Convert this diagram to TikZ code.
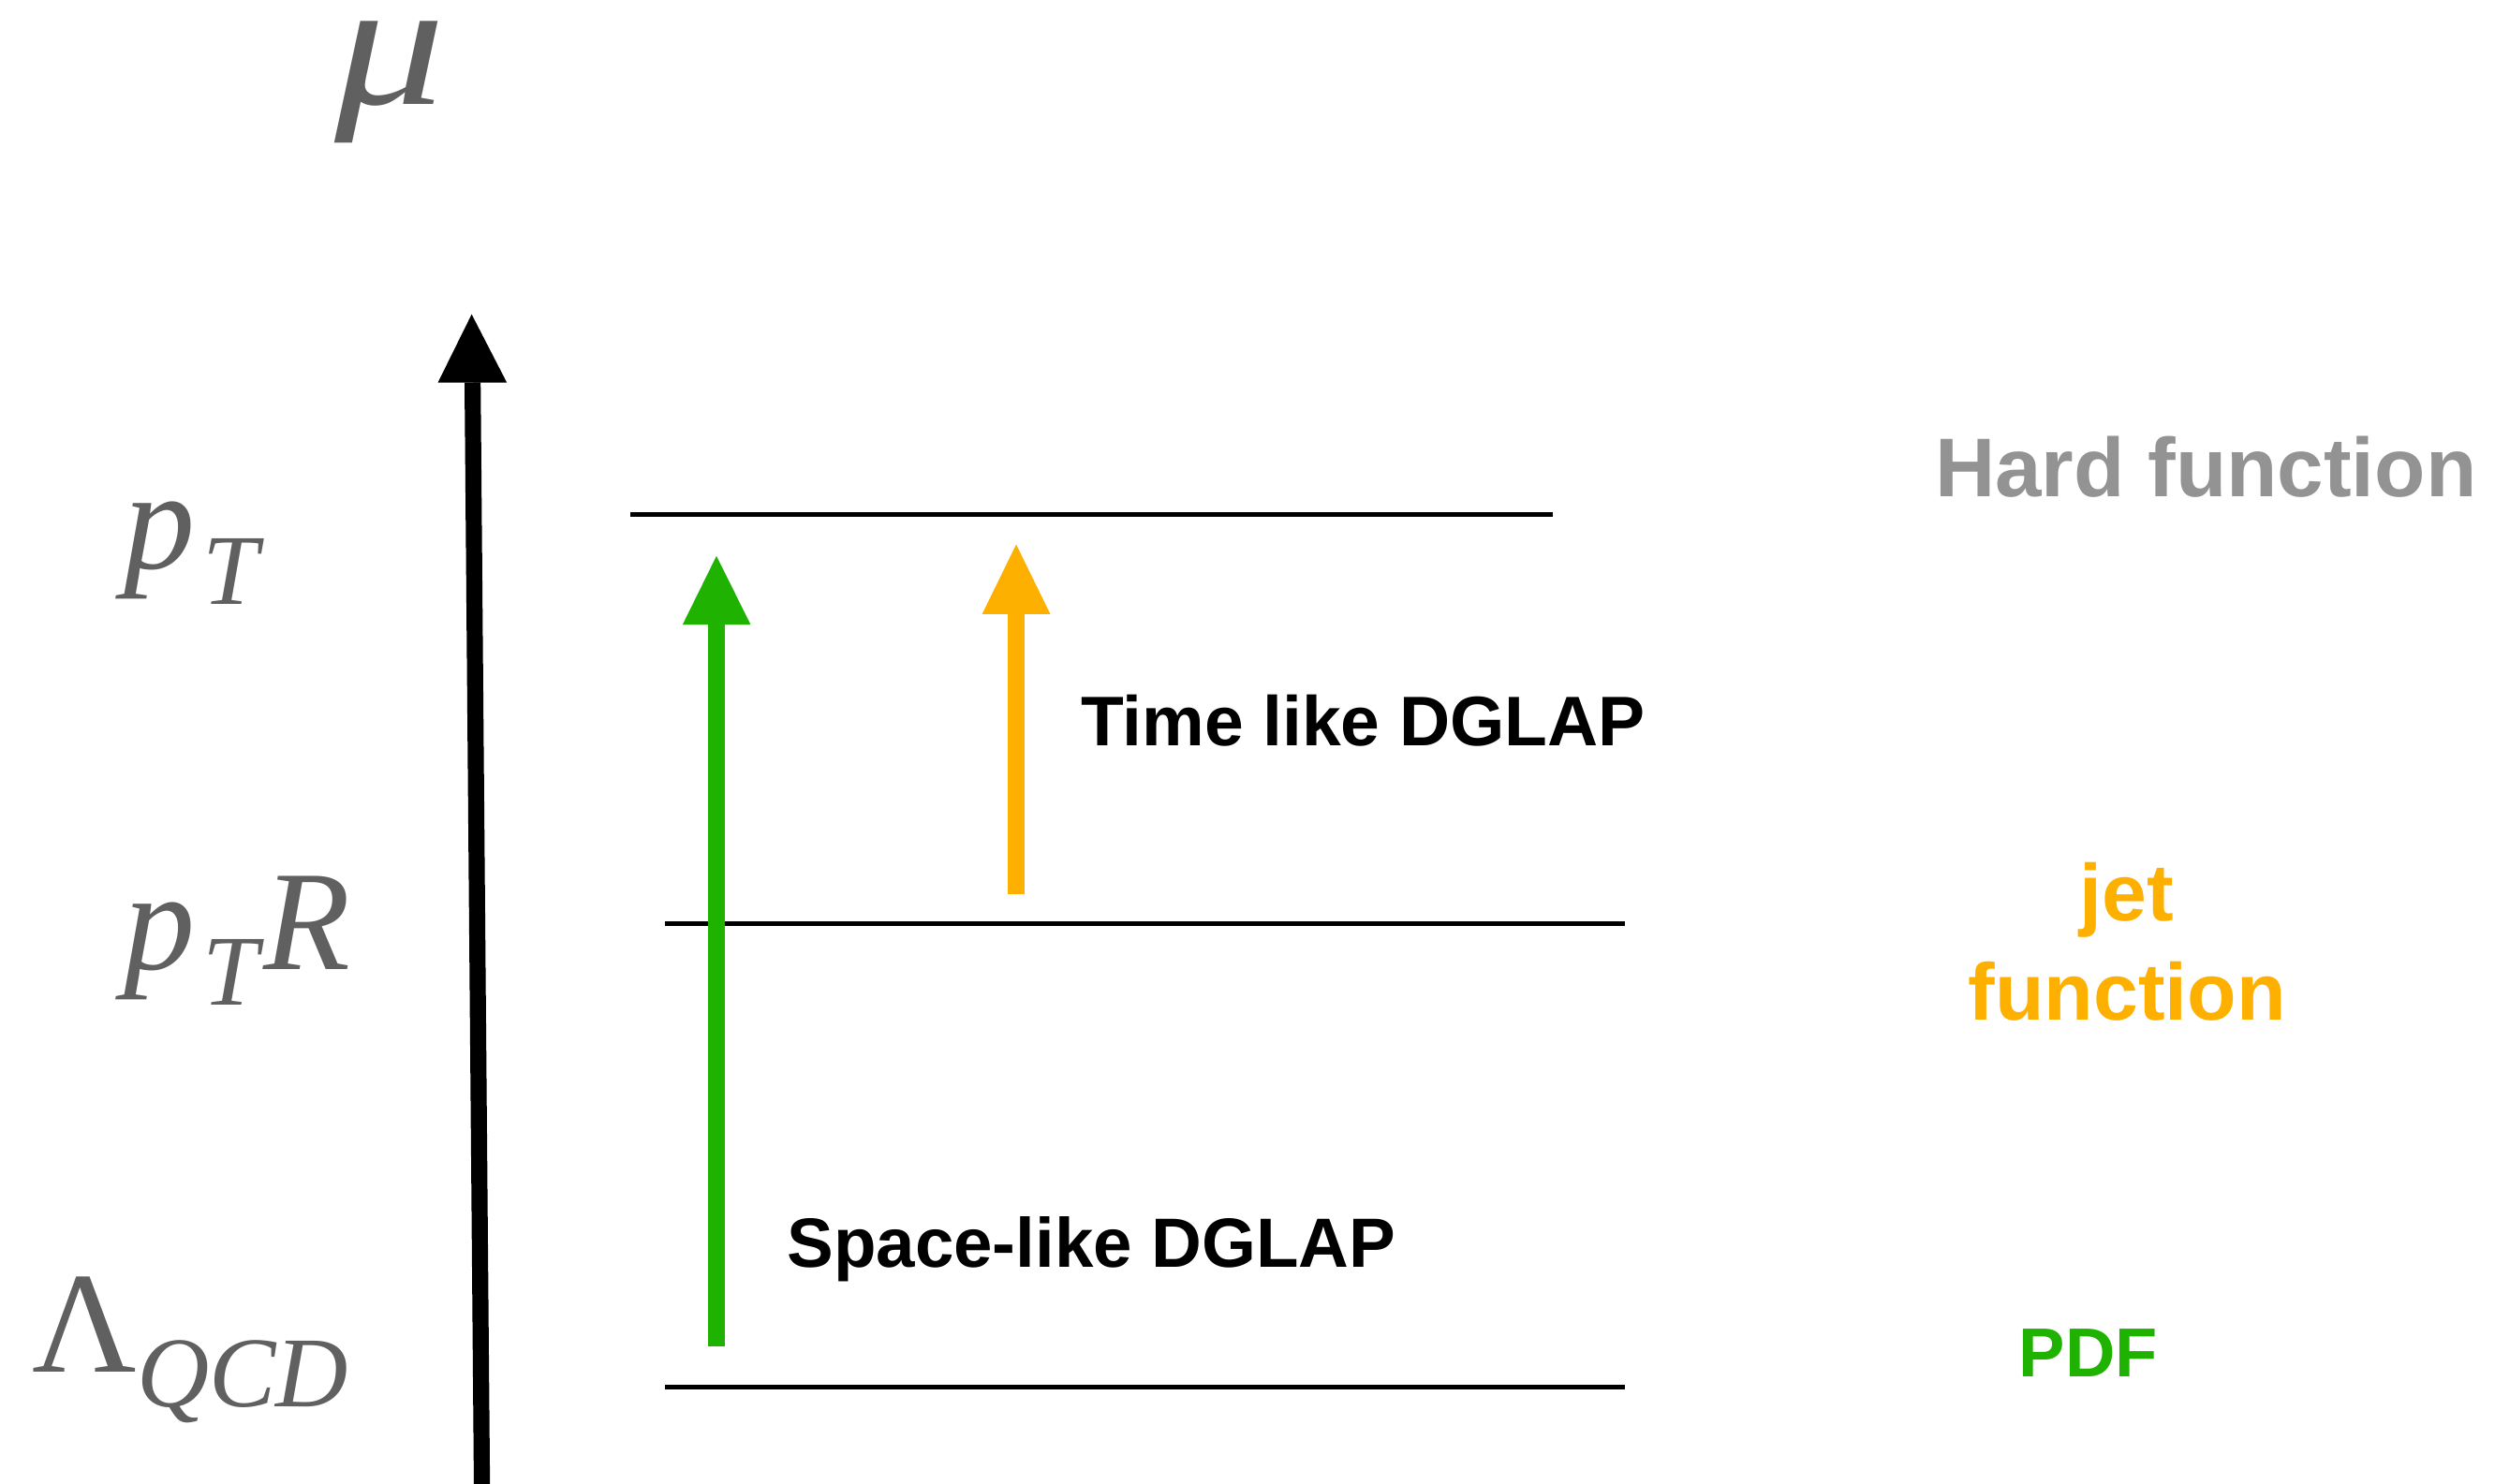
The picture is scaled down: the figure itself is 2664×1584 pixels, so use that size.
\documentclass[tikz,border=0pt]{standalone}
\usepackage{fontspec}
\setmainfont{Liberation Serif}
\newfontfamily\lsans{Liberation Sans}
\definecolor{mathgray}{RGB}{96,96,96}
\definecolor{hardgray}{RGB}{147,147,147}
\definecolor{pdfgreen}{RGB}{31,178,0}
\definecolor{jetorange}{RGB}{254,176,0}
\begin{document}
\begin{tikzpicture}[x=0.5pt,y=-0.5pt,
  level/.style={line width=2.6pt, black},
  mathlbl/.style={text=mathgray, inner sep=0pt, anchor=base west},
  sanslbl/.style={inner sep=0pt, anchor=base west, font=\lsans\bfseries\fontsize{37.5}{45}\selectfont},
  funclbl/.style={inner sep=0pt, anchor=base, font=\lsans\bfseries\fontsize{43}{52}\selectfont}]
\useasboundingbox (0,0) rectangle (2664,1584);
\fill[white] (0,0) rectangle (2664,1584);

% scale axis
\coordinate (axbot) at (514.6,1590);
\coordinate (axbase) at (504.6,408.5);
\coordinate (axtip) at (503.6,335.7);
\draw[line width=8.6pt] (axbot) -- (axbase);
\fill[black] (467.6,408.5) -- (541.1,408.5) -- (axtip) -- cycle;

% levels
\coordinate (l1a) at (673,549.7);  \coordinate (l1b) at (1658,549.7);
\coordinate (l2a) at (710,986.7);  \coordinate (l2b) at (1735,986.7);
\coordinate (l3a) at (710,1481.5); \coordinate (l3b) at (1735,1481.5);
\draw[level] (l1a) -- (l1b);
\draw[level] (l2a) -- (l2b);
\draw[level] (l3a) -- (l3b);

% green arrow
\coordinate (gbot) at (765,1437.5);
\coordinate (gbase) at (765,667.2);
\coordinate (gtip) at (765,593.8);
\draw[pdfgreen, line width=9.2pt] (gbot) -- (gbase);
\fill[pdfgreen] (728.8,667.2) -- (801.5,667.2) -- (gtip) -- cycle;

% orange arrow
\coordinate (obot) at (1085,954.6);
\coordinate (obase) at (1085,655.8);
\coordinate (otip) at (1085,581.5);
\draw[jetorange, line width=9pt] (obot) -- (obase);
\fill[jetorange] (1048.7,655.8) -- (1121.4,655.8) -- (otip) -- cycle;

% math labels
\node[mathlbl, font=\fontsize{105}{110}\selectfont\itshape] (mu) at (357,112) {\scalebox{1.12}[0.92]{μ}};
\node[mathlbl, font=\fontsize{76}{80}\selectfont\itshape] (pt) at (132,607)
  {p\kern4pt\lower19pt\hbox{\fontsize{53.5}{56}\selectfont\itshape T}};
\node[mathlbl, font=\fontsize{76}{80}\selectfont\itshape] (ptr) at (132,1035)
  {p\kern4pt\lower19pt\hbox{\fontsize{53.5}{56}\selectfont\itshape T}\kern3pt R};
\node[mathlbl, font=\fontsize{77}{80}\selectfont] (lam) at (34,1465.6)
  {Λ\lower18.5pt\hbox{\fontsize{53.5}{56}\selectfont\itshape QCD}};

% process labels
\node[sanslbl] (tl) at (1153.6,796.6) {Time like DGLAP};
\node[sanslbl, font=\lsans\bfseries\fontsize{37.25}{45}\selectfont] (sl) at (840,1353) {Space-like DGLAP};

% function labels
\node[sanslbl, text=hardgray, font=\lsans\bfseries\fontsize{44.5}{52}\selectfont] (hard) at (2065.6,530.5) {Hard function};
\node[funclbl, text=jetorange] (jet1) at (2271,983) {jet};
\node[funclbl, text=jetorange] (jet2) at (2271,1089.4) {function};
\node[sanslbl, text=pdfgreen, font=\lsans\bfseries\fontsize{37}{45}\selectfont] (pdf) at (2155.4,1470.8) {PDF};
\end{tikzpicture}
\end{document}
